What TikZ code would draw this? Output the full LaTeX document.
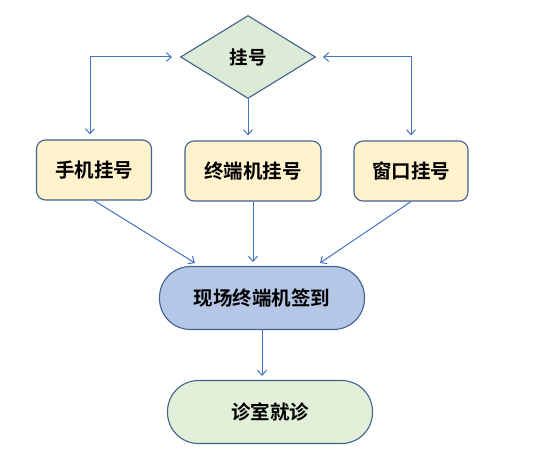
\documentclass[tikz,border=0pt]{standalone}
\usepackage{fontspec}
\setmainfont{Noto Sans CJK SC}[BoldFont={Noto Sans CJK SC Bold}]
\usetikzlibrary{shapes.geometric,arrows.meta}
\definecolor{linea}{HTML}{4472C4}
\definecolor{borde}{HTML}{41618F}
\definecolor{amar}{HTML}{FFF2CC}
\definecolor{azul}{HTML}{B4C7E7}
\definecolor{verde}{HTML}{E2F0D9}
\definecolor{verdeb}{HTML}{DCEBD5}
\tikzset{
	caja/.style={draw=borde, fill=amar, rounded corners=9pt, line width=1.1pt, minimum height=60pt, inner sep=0pt, font=\fontsize{19.5}{22}\selectfont\bfseries},
	pildora/.style={draw=borde, fill=#1, rounded corners=31pt, line width=1.1pt, minimum width=205pt, minimum height=63pt, inner sep=0pt, font=\fontsize{19.5}{22}\selectfont\bfseries},
	flecha/.style={draw=linea, line width=1pt, -{Straight Barb[length=5pt,width=9pt]}}
}
\begin{document}
\begin{tikzpicture}[x=1pt, y=-1pt]
\useasboundingbox (0,0) rectangle (538,460);

\node[diamond, draw=borde, fill=verdeb, line width=1.1pt, minimum width=135pt, minimum height=83pt, inner sep=0pt, font=\fontsize{18.5}{22}\selectfont\bfseries] (GH) at (248,57) {挂号};

% Formas de registro
	\node[caja, minimum width=115pt] (SJ) at (94,170) {手机挂号};
	\node[caja, minimum width=136pt] (ZD) at (253,171) {终端机挂号};
	\node[caja, minimum width=114pt] (CK) at (411,171) {窗口挂号};

	\draw[flecha, {Straight Barb[length=5pt,width=9pt]}-{Straight Barb[length=5pt,width=9pt]}, shorten <=8pt, shorten >=5pt] (GH.west) -| (SJ.north -| 90,0);
	\draw[flecha, {Straight Barb[length=5pt,width=9pt]}-{Straight Barb[length=5pt,width=9pt]}, shorten <=7pt, shorten >=5pt] (GH.east) -| (CK.north);
	\draw[flecha, shorten >=5pt] (GH.south) -- (GH.south |- ZD.north);

% Registro y consulta
	\node[pildora=azul] (QD) at (262,298) {现场终端机签到};
	\node[pildora=verde] (JZ) at (270,412) {诊室就诊};

	\coordinate (QDL) at (195,263);
	\coordinate (QDR) at (320,263);
	\draw[flecha] (SJ.south) -- (QDL);
	\draw[flecha, shorten >=4pt] (ZD.south) -- (ZD.south |- QD.north);
	\draw[flecha] (CK.south) -- (QDR);
	\draw[flecha, shorten >=4pt] (QD.south) -- (JZ.north -| QD.south);
\end{tikzpicture}
\end{document}
